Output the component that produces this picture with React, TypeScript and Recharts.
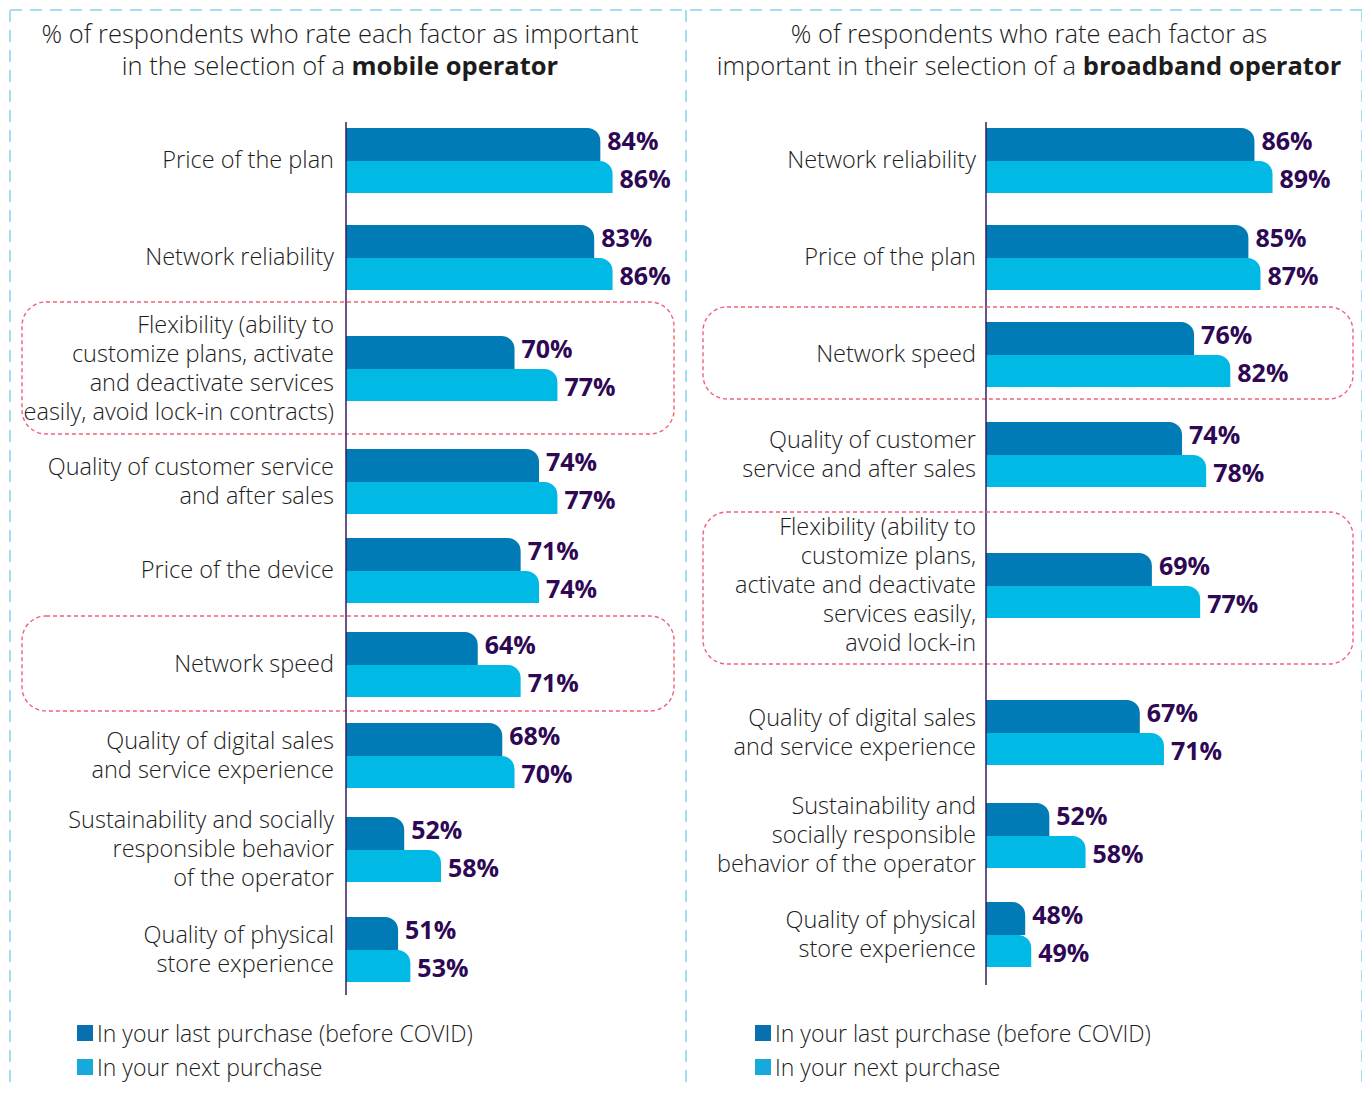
import React from 'react'
import { BarChart, Bar, XAxis, YAxis, LabelList } from 'recharts'

// mobile operator panel
const mobileFactors = [
  'Price of the plan',
  'Network reliability',
  'Flexibility (ability to\ncustomize plans, activate\nand deactivate services\neasily, avoid lock-in contracts)',
  'Quality of customer service\nand after sales',
  'Price of the device',
  'Network speed',
  'Quality of digital sales\nand service experience',
  'Sustainability and socially\nresponsible behavior\nof the operator',
  'Quality of physical\nstore experience',
]
const mobileLast = [84, 83, 70, 74, 71, 64, 68, 52, 51]
const mobileNext = [86, 86, 77, 77, 74, 71, 70, 58, 53]
const mobileHighlighted = [2, 5]

// broadband operator panel
const broadbandFactors = [
  'Network reliability',
  'Price of the plan',
  'Network speed',
  'Quality of customer\nservice and after sales',
  'Flexibility (ability to\ncustomize plans,\nactivate and deactivate\nservices easily,\navoid lock-in',
  'Quality of digital sales\nand service experience',
  'Sustainability and\nsocially responsible\nbehavior of the operator',
  'Quality of physical\nstore experience',
]
const broadbandLast = [86, 85, 76, 74, 69, 67, 52, 48]
const broadbandNext = [89, 87, 82, 78, 77, 71, 58, 49]
const broadbandHighlighted = [2, 4]

const seriesNames = ['In your last purchase (before COVID)', 'In your next purchase']

const FONT = '"Open Sans", "DejaVu Sans", sans-serif'
const DARK = '#007bb5'
const LIGHT = '#00b9e5'
const VALUE = '#2e0854'
const AXIS = '#3a1a5a'
const TEXT = '#1c1c1c'
const BOX = '#f0607a'
const FRAME = '#a6dcef'

interface PanelLayout {
  left: number
  width: number
  axisWidth: number
  domain: [number, number]
  gaps: number[]
  bottomPad: number
  boxPads: Record<number, [number, number]>
  boxLeft: number
  boxWidth: number
  labelGap: number
}

const mobileLayout: PanelLayout = {
  left: 14,
  width: 666,
  axisWidth: 332,
  domain: [42.5, 97],
  gaps: [5, 31, 45, 47, 23, 28, 25, 28, 34],
  bottomPad: 13,
  boxPads: { 2: [33, 33], 5: [15, 14] },
  boxLeft: 22,
  boxWidth: 652,
  labelGap: 12,
}

const broadbandLayout: PanelLayout = {
  left: 692,
  width: 668,
  axisWidth: 294,
  domain: [41.5, 103.5],
  gaps: [5, 31, 31, 34, 65, 81, 37, 33],
  bottomPad: 18,
  boxPads: { 2: [14, 12], 4: [40, 46] },
  boxLeft: 703,
  boxWidth: 650,
  labelGap: 10,
}

function FactorTick(props: any) {
  const { x, y, payload } = props
  const lines = String(payload.value).split('\n')
  const lh = 29
  const top = y - ((lines.length - 1) * lh) / 2 + 8
  return (
    <text textAnchor="end" fontFamily={FONT} fontSize={23.5} fontWeight={300} fill={TEXT}>
      {lines.map((l, i) => (
        <tspan key={i} x={x} y={top + i * lh}>
          {l}
        </tspan>
      ))}
    </text>
  )
}

function Row({ row, index, layout, highlighted, isLast }: any) {
  const gap = layout.gaps[index]
  const pad = isLast ? layout.bottomPad : 0
  const h = gap + 66 + pad
  const boxPad = highlighted ? layout.boxPads[index] : null
  return (
    <div style={{ position: 'relative', height: h }}>
      <BarChart
        layout="vertical"
        width={layout.width}
        height={h}
        data={[row]}
        margin={{ top: 0, right: 0, bottom: 0, left: 0 }}
        barGap={1}
      >
        <XAxis type="number" domain={layout.domain} hide allowDataOverflow />
        <YAxis
          type="category"
          dataKey="factor"
          width={layout.axisWidth}
          axisLine={{ stroke: AXIS, strokeWidth: 1.5 }}
          tickLine={false}
          tickSize={0}
          tickMargin={layout.labelGap}
          tick={<FactorTick />}
          padding={{ top: gap, bottom: pad }}
          interval={0}
        />
        <Bar dataKey="last" fill={DARK} barSize={33} radius={[0, 13, 0, 0]} isAnimationActive={false}>
          <LabelList
            dataKey="last"
            position="right"
            offset={7}
            dy={-3}
            formatter={(v: any) => `${v}%`}
            fill={VALUE}
            fontSize={25}
            fontWeight={700}
            fontFamily={FONT}
          />
        </Bar>
        <Bar dataKey="next" fill={LIGHT} barSize={32} radius={[0, 13, 0, 0]} isAnimationActive={false}>
          <LabelList
            dataKey="next"
            position="right"
            offset={7}
            dy={2}
            formatter={(v: any) => `${v}%`}
            fill={VALUE}
            fontSize={25}
            fontWeight={700}
            fontFamily={FONT}
          />
        </Bar>
      </BarChart>
      {boxPad && (
        <svg
          style={{
            position: 'absolute',
            left: layout.boxLeft - layout.left - 2,
            top: gap - boxPad[0] - 2,
            pointerEvents: 'none',
          }}
          width={layout.boxWidth + 4}
          height={66 + boxPad[0] + boxPad[1] + 4}
        >
          <rect
            x={2}
            y={2}
            width={layout.boxWidth}
            height={66 + boxPad[0] + boxPad[1]}
            rx={24}
            fill="none"
            stroke={BOX}
            strokeWidth={1.4}
            strokeDasharray="4 3"
          />
        </svg>
      )}
    </div>
  )
}

function Panel({ factors, last, next, highlighted, layout }: any) {
  const rows = factors.map((f: string, i: number) => ({ factor: f, last: last[i], next: next[i] }))
  return (
    <div style={{ position: 'absolute', left: layout.left, top: 122, width: layout.width }}>
      {rows.map((r: any, i: number) => (
        <Row
          key={i}
          row={r}
          index={i}
          layout={layout}
          highlighted={highlighted.includes(i)}
          isLast={i === rows.length - 1}
        />
      ))}
    </div>
  )
}

function Legend({ left }: { left: number }) {
  const colors = ['#0a6fae', '#17a9dc']
  return (
    <>
      {seriesNames.map((n, i) => (
        <div
          key={n}
          style={{
            position: 'absolute',
            left,
            top: 1018 + i * 34,
            height: 30,
            display: 'flex',
            alignItems: 'center',
            fontFamily: FONT,
            fontWeight: 300,
            fontSize: 23,
            color: TEXT,
            whiteSpace: 'nowrap',
          }}
        >
          <span style={{ width: 16, height: 16, background: colors[i], marginRight: 4, display: 'inline-block' }} />
          {n}
        </div>
      ))}
    </>
  )
}

const titleStyle: React.CSSProperties = {
  position: 'absolute',
  top: 17,
  width: 680,
  textAlign: 'center',
  fontFamily: FONT,
  fontWeight: 300,
  fontSize: 25.5,
  lineHeight: '32px',
  color: TEXT,
  whiteSpace: 'nowrap',
}

export default function App() {
  return (
    <div
      style={{
        position: 'relative',
        width: 1370,
        height: 1095,
        margin: -8,
        background: '#fff',
        overflow: 'hidden',
      }}
    >
      <style>{'.recharts-surface, .recharts-wrapper { overflow: visible !important; }'}</style>
      <svg style={{ position: 'absolute', left: 0, top: 0 }} width={1370} height={1095}>
        <g stroke={FRAME} strokeWidth={2} strokeDasharray="12 8" fill="none">
          <line x1={10} y1={10} x2={1362} y2={10} />
          <line x1={10} y1={10} x2={10} y2={1095} />
          <line x1={686} y1={10} x2={686} y2={1095} />
          <line x1={1362} y1={10} x2={1362} y2={1095} />
        </g>
      </svg>
      <div style={{ ...titleStyle, left: 0 }}>
        % of respondents who rate each factor as important
        <br />
        in the selection of a <b style={{ fontWeight: 700 }}>mobile operator</b>
      </div>
      <div style={{ ...titleStyle, left: 689 }}>
        % of respondents who rate each factor as
        <br />
        important in their selection of a <b style={{ fontWeight: 700 }}>broadband operator</b>
      </div>
      <Panel
        factors={mobileFactors}
        last={mobileLast}
        next={mobileNext}
        highlighted={mobileHighlighted}
        layout={mobileLayout}
      />
      <Panel
        factors={broadbandFactors}
        last={broadbandLast}
        next={broadbandNext}
        highlighted={broadbandHighlighted}
        layout={broadbandLayout}
      />
      <Legend left={77} />
      <Legend left={755} />
    </div>
  )
}
